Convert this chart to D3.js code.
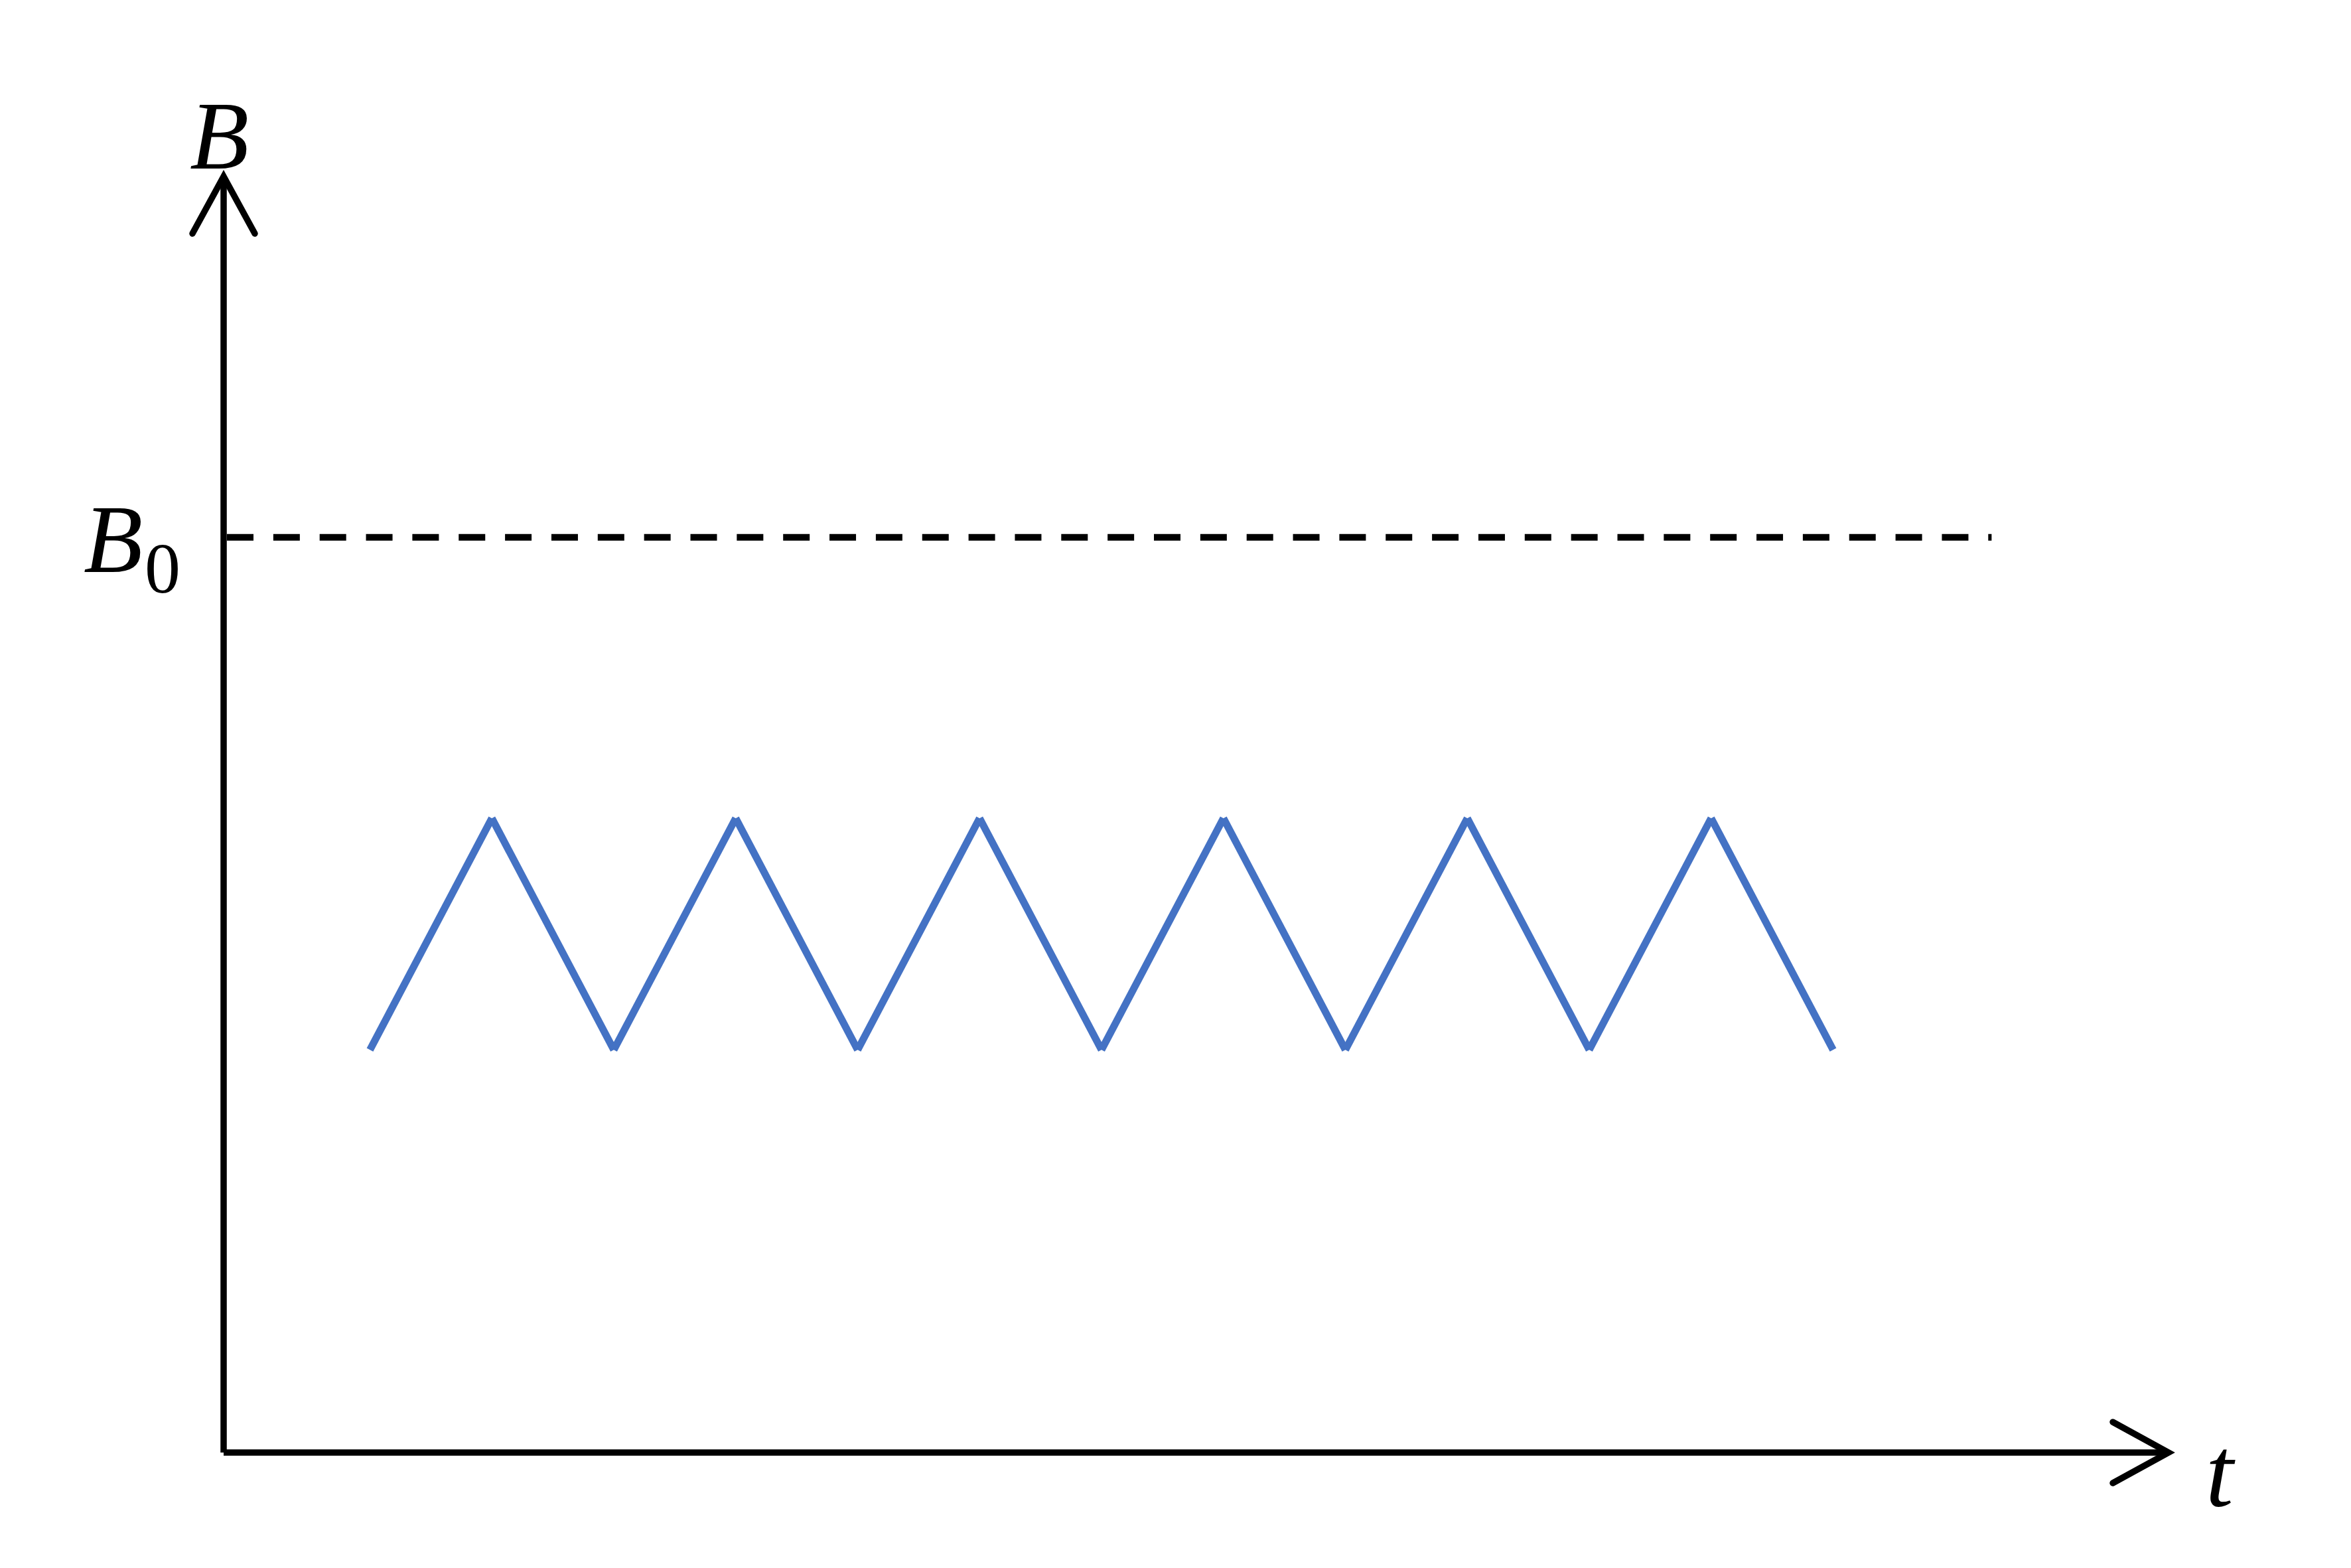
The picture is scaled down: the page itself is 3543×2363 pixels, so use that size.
<!DOCTYPE html>
<html>
<head>
<meta charset="utf-8">
<script src="https://cdn.jsdelivr.net/npm/d3@7"></script>
<style>
  html, body { margin: 0; padding: 0; background: #ffffff; }
  svg { display: block; }
</style>
</head>
<body>
<script>
// ---- data ----
const zigT = [1.2, 2.2, 3.2, 4.2, 5.2, 6.2, 7.2, 8.2, 9.2, 10.2, 11.2, 12.2, 13.2];
const zigB = [0.44, 0.693, 0.44, 0.693, 0.44, 0.693, 0.44, 0.693, 0.44, 0.693, 0.44, 0.693, 0.44];
const refB = [1.0];            // B0 level
const refT = [0, 14.5];        // extent of dashed B0 line
const axisMaxT = [16];
const axisMaxB = [1.4];
const labelsAxis = ["B", "t"];
const labelRef = ["B", "0"];

// ---- layout ----
const W = 3543, H = 2363;
const svg = d3.select("body").append("svg").attr("width", W).attr("height", H);

const x = d3.scaleLinear().domain([0, axisMaxT[0]]).range([337, 3277]);
const y = d3.scaleLinear().domain([0, axisMaxB[0]]).range([2189, 258]);

const black = "#000000";
const blue = "#4472C4";
const axisW = 9.5;

// axes
const yTip = [x(0), y(axisMaxB[0]) + 8];
const xTip = [x(axisMaxT[0]) - 9, y(0)];
svg.append("line")
  .attr("x1", x(0)).attr("y1", y(0)).attr("x2", yTip[0]).attr("y2", yTip[1] + 4)
  .attr("stroke", black).attr("stroke-width", axisW);
svg.append("line")
  .attr("x1", x(0)).attr("y1", y(0)).attr("x2", xTip[0] - 4).attr("y2", xTip[1])
  .attr("stroke", black).attr("stroke-width", axisW);

// open arrowheads
svg.append("path")
  .attr("d", `M${yTip[0]-47},${yTip[1]+86} L${yTip[0]},${yTip[1]} L${yTip[0]+47},${yTip[1]+86}`)
  .attr("fill", "none").attr("stroke", black).attr("stroke-width", axisW)
  .attr("stroke-linecap", "round").attr("stroke-linejoin", "miter");
svg.append("path")
  .attr("d", `M${xTip[0]-84},${xTip[1]-46} L${xTip[0]},${xTip[1]} L${xTip[0]-84},${xTip[1]+46}`)
  .attr("fill", "none").attr("stroke", black).attr("stroke-width", axisW)
  .attr("stroke-linecap", "round").attr("stroke-linejoin", "miter");

// dashed B0 line
svg.append("line")
  .attr("x1", x(refT[0]) + 5).attr("y1", y(refB[0]))
  .attr("x2", x(refT[1])).attr("y2", y(refB[0]))
  .attr("stroke", black).attr("stroke-width", 10)
  .attr("stroke-dasharray", "40,29.85");

// zigzag, drawn segment by segment (butt caps)
const pts = zigT.map((t, i) => [t, zigB[i]]);
const line = d3.line().x(d => x(d[0])).y(d => y(d[1]));
const segs = d3.pairs(pts);
svg.selectAll("path.seg").data(segs).enter().append("path")
  .attr("class", "seg")
  .attr("d", d => line(d))
  .attr("fill", "none").attr("stroke", blue).attr("stroke-width", 11)
  .attr("stroke-linecap", "butt");

// labels
const serif = "'Liberation Serif', 'Times New Roman', serif";
svg.append("text")
  .attr("x", 286).attr("y", 254)
  .attr("font-family", serif).attr("font-style", "italic").attr("font-size", 146)
  .attr("fill", black).text(labelsAxis[0]);

svg.append("text")
  .attr("x", 3324).attr("y", 2270)
  .attr("font-family", serif).attr("font-style", "italic").attr("font-size", 150)
  .attr("fill", black).text(labelsAxis[1]);

const b0 = svg.append("text")
  .attr("font-family", serif).attr("fill", black);
b0.append("tspan")
  .attr("x", 126).attr("y", 862)
  .attr("font-style", "italic").attr("font-size", 146).text(labelRef[0]);
b0.append("tspan")
  .attr("x", 218).attr("y", 893)
  .attr("font-style", "normal").attr("font-size", 108).text(labelRef[1]);
</script>
</body>
</html>
